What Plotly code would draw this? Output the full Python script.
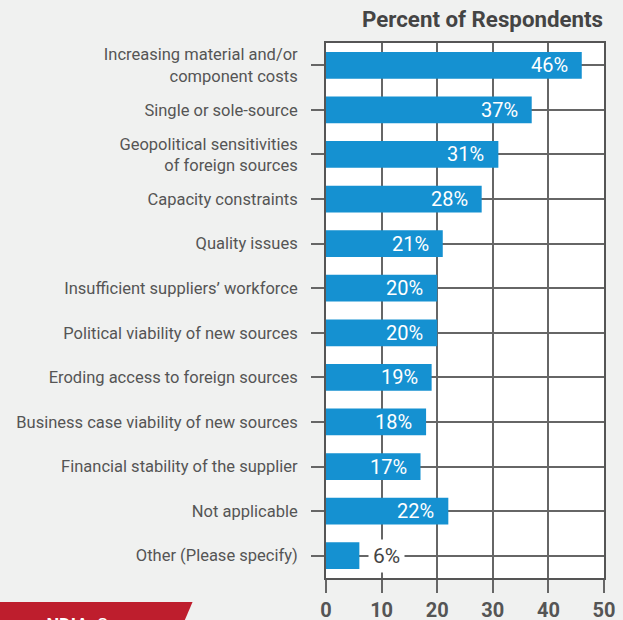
import plotly.graph_objects as go

categories = [
    "Increasing material and/or<br>component costs",
    "Single or sole-source",
    "Geopolitical sensitivities<br>of foreign sources",
    "Capacity constraints",
    "Quality issues",
    "Insufficient suppliers’ workforce",
    "Political viability of new sources",
    "Eroding access to foreign sources",
    "Business case viability of new sources",
    "Financial stability of the supplier",
    "Not applicable",
    "Other (Please specify)",
]
values = [46, 37, 31, 28, 21, 20, 20, 19, 18, 17, 22, 6]
x_ticks = [0, 10, 20, 30, 40, 50]

BLUE = "#1591d1"
GRID = "#666666"
TEXT = "#555555"
BG = "#f0f1f0"

fig = go.Figure(
    go.Bar(
        x=values,
        y=categories,
        orientation="h",
        width=0.6,
        marker=dict(color=BLUE, line=dict(width=0)),
        hoverinfo="skip",
    )
)

# value labels: white inside the bar end, dark outside for short bars
annotations = []
for cat, v in zip(categories, values):
    if v >= 10:
        annotations.append(dict(
            x=v, y=cat, xref="x", yref="y", text=f"{v}%", showarrow=False,
            xanchor="right", xshift=-12,
            font=dict(family="Roboto", size=20, color="white"),
        ))
    else:
        annotations.append(dict(
            x=v, y=cat, xref="x", yref="y", text=f"{v}%", showarrow=False,
            xanchor="left", xshift=9, bgcolor="white", borderpad=4,
            font=dict(family="Roboto", size=21, color="#444444"),
        ))

annotations.append(dict(
    x=1, y=1, xref="paper", yref="paper", yshift=39, xshift=1,
    text="<b>Percent of Respondents</b>",
    showarrow=False, xanchor="right", yanchor="top",
    font=dict(family="Roboto", size=22.3, color="#444444"),
))

# source banner at the lower left
annotations.append(dict(
    x=-0.59, y=-0.066, xref="paper", yref="paper", yshift=1,
    text="<b>Source: NDIA</b>  Surveys", showarrow=False,
    xanchor="right", yanchor="top",
    font=dict(family="Roboto", size=18, color="white"),
))

shapes = [dict(
    type="path", xref="paper", yref="paper",
    path="M -1.2 -0.0449 L -0.480 -0.0449 L -0.509 -0.08 L -1.2 -0.08 Z",
    fillcolor="#be1e2d", line=dict(width=0), layer="above",
)]

fig.update_layout(
    width=623, height=620,
    margin=dict(l=326, r=19, t=43, b=42),
    paper_bgcolor=BG, plot_bgcolor="white",
    showlegend=False,
    bargap=0.4,
    annotations=annotations,
    shapes=shapes,
    font=dict(family="Roboto", color=TEXT),
)

fig.update_xaxes(
    range=[0, 50], tickvals=x_ticks, ticktext=[str(t) for t in x_ticks],
    showgrid=True, gridcolor=GRID, gridwidth=1.5,
    showline=True, linecolor="#555555", linewidth=2, mirror=True,
    ticks="outside", ticklen=13, tickcolor=GRID, tickwidth=1.5,
    tickfont=dict(family="Roboto", size=20, color=TEXT, weight="bold"),
    zeroline=False, fixedrange=True, automargin=False,
)
fig.update_yaxes(
    autorange="reversed",
    showgrid=True, gridcolor=GRID, gridwidth=1.5,
    showline=True, linecolor="#555555", linewidth=2, mirror=True,
    ticks="outside", ticklen=13, tickcolor=GRID, tickwidth=1.5,
    tickfont=dict(family="Roboto", size=16.5, color=TEXT),
    ticklabelstandoff=10, fixedrange=True, automargin=False,
)

fig.write_html("out.html")
